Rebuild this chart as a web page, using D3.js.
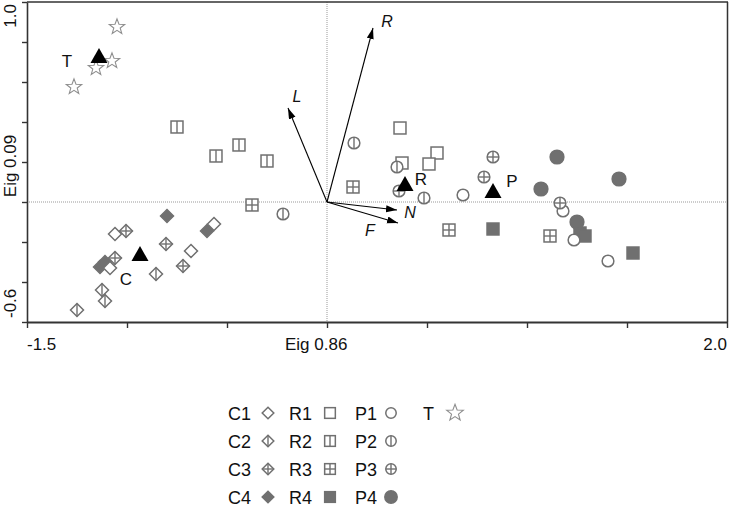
<!DOCTYPE html>
<html>
<head>
<meta charset="utf-8">
<script src="https://cdn.jsdelivr.net/npm/d3@7"></script>
<style>
  html, body { margin: 0; padding: 0; background: #fff; }
  svg { display: block; font-family: "Liberation Sans", Arial, Helvetica, sans-serif; }
</style>
</head>
<body>
<svg id="chart" width="729" height="506"></svg>
<script>
// ---------- DATA ----------
const xTicks = [-1.5, -1.0, -0.5, 0, 0.5, 1.0, 1.5, 2.0];
const yTicks = [-0.6, -0.4, -0.2, 0, 0.2, 0.4, 0.6, 0.8, 1.0];
const xTickLabels = ["-1.5", "2.0"];
const yTickLabels = ["-0.6", "1.0"];
const xTitle = "Eig 0.86";
const yTitle = "Eig 0.09";

const C1 = [[-1.06, -0.16], [-0.565, -0.11], [-0.68, -0.245], [-1.085, -0.33]];
const C2 = [[-0.855, -0.36], [-1.125, -0.44], [-1.11, -0.495], [-1.25, -0.54]];
const C3 = [[-1.005, -0.145], [-0.805, -0.21], [-0.72, -0.32], [-1.06, -0.28]];
const C4 = [[-0.80, -0.07], [-0.60, -0.145], [-1.135, -0.325], [-1.11, -0.30]];
const R1 = [[0.365, 0.37], [0.55, 0.245], [0.51, 0.19], [0.375, 0.195]];
const R2 = [[-0.75, 0.375], [-0.555, 0.23], [-0.44, 0.285], [-0.30, 0.205]];
const R3 = [[-0.375, -0.015], [0.13, 0.075], [0.61, -0.14], [1.115, -0.17]];
const R4 = [[0.83, -0.135], [1.265, -0.155], [1.29, -0.17], [1.53, -0.255]];
const P1 = [[0.68, 0.035], [1.18, -0.045], [1.235, -0.19], [1.405, -0.295]];
const P2 = [[0.135, 0.295], [0.35, 0.175], [0.485, 0.02], [-0.22, -0.06]];
const P3 = [[0.36, 0.055], [0.785, 0.125], [0.83, 0.225], [1.165, -0.005]];
const P4 = [[1.15, 0.225], [1.07, 0.065], [1.46, 0.115], [1.25, -0.10]];
const T  = [[-1.05, 0.875], [-1.075, 0.705], [-1.155, 0.67], [-1.265, 0.575]];

const centroidNames = ["T", "C", "R", "P"];
const centroids = [[-1.14, 0.725], [-0.935, -0.265], [0.39, 0.085], [0.83, 0.05]];

const vectorNames = ["R", "L", "N", "F"];
const vectorEnds = [[0.23, 0.87], [-0.195, 0.47], [0.35, -0.04], [0.355, -0.105]];
const vectorLabelPos = [[0.30, 0.905], [-0.15, 0.53], [0.415, -0.05], [0.215, -0.14]];

const legendRows = [["C1", "R1", "P1", "T"], ["C2", "R2", "P2"], ["C3", "R3", "P3"], ["C4", "R4", "P4"]];

// ---------- STYLE / LAYOUT ----------
const GRAY = "#707070";
const STAR = "#8e8e8e";
const svg = d3.select("#chart");
const pL = 27, pR = 727, pT = 2, pB = 322;
const x = d3.scaleLinear().domain([-1.5, 2.0]).range([pL, pR]);
const y = d3.scaleLinear().domain([-0.6, 1.0]).range([pB, pT]);

const groups = {
  C1: {pts: C1, shape: "diamond", mark: "none", fill: false},
  C2: {pts: C2, shape: "diamond", mark: "v", fill: false},
  C3: {pts: C3, shape: "diamond", mark: "cross", fill: false},
  C4: {pts: C4, shape: "diamond", mark: "none", fill: true},
  R1: {pts: R1, shape: "square", mark: "none", fill: false},
  R2: {pts: R2, shape: "square", mark: "v", fill: false},
  R3: {pts: R3, shape: "square", mark: "cross", fill: false},
  R4: {pts: R4, shape: "square", mark: "none", fill: true},
  P1: {pts: P1, shape: "circle", mark: "none", fill: false},
  P2: {pts: P2, shape: "circle", mark: "v", fill: false},
  P3: {pts: P3, shape: "circle", mark: "cross", fill: false},
  P4: {pts: P4, shape: "circle", mark: "none", fill: true},
  T:  {pts: T, shape: "star", mark: "none", fill: false}
};

function drawSymbol(g, spec, s) {
  const col = spec.shape === "star" ? STAR : GRAY;
  const sw = 1.5;
  if (spec.shape === "diamond") {
    g.append("path").attr("d", `M0,${-s}L${s},0L0,${s}L${-s},0Z`)
      .attr("fill", spec.fill ? GRAY : "#fff").attr("stroke", GRAY).attr("stroke-width", sw);
  } else if (spec.shape === "square") {
    const h = s * 0.92;
    g.append("rect").attr("x", -h).attr("y", -h).attr("width", 2 * h).attr("height", 2 * h)
      .attr("fill", spec.fill ? GRAY : "#fff").attr("stroke", GRAY).attr("stroke-width", sw);
  } else if (spec.shape === "circle") {
    g.append("circle").attr("r", spec.fill ? s * 0.98 + 0.5 : s * 0.9)
      .attr("fill", spec.fill ? GRAY : "#fff").attr("stroke", GRAY).attr("stroke-width", sw);
  } else if (spec.shape === "star") {
    const pts = [];
    for (let i = 0; i < 10; i++) {
      const a = -Math.PI / 2 + i * Math.PI / 5;
      const r = i % 2 === 0 ? s * 1.25 : s * 0.52;
      pts.push([r * Math.cos(a), r * Math.sin(a)]);
    }
    g.append("path").attr("d", "M" + pts.map(p => p.join(",")).join("L") + "Z")
      .attr("fill", "#fff").attr("stroke", col).attr("stroke-width", 1.1);
  }
  const ext = spec.shape === "square" ? s * 0.92 : (spec.shape === "circle" ? s * 0.9 : s);
  if (spec.mark === "v" || spec.mark === "cross") {
    g.append("line").attr("x1", 0).attr("x2", 0).attr("y1", -ext).attr("y2", ext)
      .attr("stroke", GRAY).attr("stroke-width", 1.4);
  }
  if (spec.mark === "cross") {
    g.append("line").attr("y1", 0).attr("y2", 0).attr("x1", -ext).attr("x2", ext)
      .attr("stroke", GRAY).attr("stroke-width", 1.4);
  }
}

// dotted zero lines
svg.append("line").attr("x1", x(0)).attr("x2", x(0)).attr("y1", pT).attr("y2", pB)
  .attr("stroke", "#999").attr("stroke-width", 1).attr("stroke-dasharray", "1,1");
svg.append("line").attr("x1", pL).attr("x2", pR).attr("y1", y(0)).attr("y2", y(0))
  .attr("stroke", "#999").attr("stroke-width", 1).attr("stroke-dasharray", "1,1");

// frame top & right
svg.append("line").attr("x1", pL).attr("x2", pR + 1).attr("y1", pT).attr("y2", pT)
  .attr("stroke", "#333").attr("stroke-width", 1.5);
svg.append("line").attr("x1", pR + 0.5).attr("x2", pR + 0.5).attr("y1", pT).attr("y2", pB)
  .attr("stroke", "#333").attr("stroke-width", 1.5);

// axes
const xAxis = svg.append("g").attr("transform", `translate(0,${pB})`)
  .call(d3.axisBottom(x).tickValues(xTicks).tickFormat("").tickSizeInner(6).tickSizeOuter(0));
const yAxis = svg.append("g").attr("transform", `translate(${pL},0)`)
  .call(d3.axisLeft(y).tickValues(yTicks).tickFormat("").tickSizeInner(5).tickSizeOuter(0));
xAxis.select(".domain").attr("stroke", "#333").attr("stroke-width", 2);
yAxis.select(".domain").attr("stroke", "#333").attr("stroke-width", 1.6);
xAxis.selectAll(".tick line").attr("stroke", "#333").attr("stroke-width", 1.4);
yAxis.selectAll(".tick line").attr("stroke", "#333").attr("stroke-width", 1.4);

// axis text
svg.append("text").attr("x", x(xTicks[0])).attr("y", 350).attr("font-size", 17).attr("fill", "#111").text(xTickLabels[0]);
svg.append("text").attr("x", x(xTicks[xTicks.length - 1])).attr("y", 350).attr("text-anchor", "end")
  .attr("font-size", 17).attr("fill", "#111").text(xTickLabels[1]);
svg.append("text").attr("x", 285).attr("y", 350).attr("font-size", 17).attr("fill", "#111").text(xTitle);

svg.append("text").attr("transform", `translate(15.5,${y(yTicks[0]) - 4}) rotate(-90)`)
  .attr("font-size", 17).attr("fill", "#111").text(yTickLabels[0]);
svg.append("text").attr("transform", `translate(15.5,${y(yTicks[yTicks.length - 1]) + 2}) rotate(-90)`)
  .attr("text-anchor", "end").attr("font-size", 17).attr("fill", "#111").text(yTickLabels[1]);
svg.append("text").attr("transform", `translate(15.5,166) rotate(-90)`)
  .attr("text-anchor", "middle").attr("font-size", 17).attr("fill", "#111").text(yTitle);

// vectors
const defs = svg.append("defs");
defs.append("marker").attr("id", "arr").attr("markerUnits", "userSpaceOnUse")
  .attr("markerWidth", 12).attr("markerHeight", 8).attr("refX", 11).attr("refY", 3.5)
  .attr("orient", "auto")
  .append("path").attr("d", "M0,0L11,3.5L0,7Z").attr("fill", "#000");
vectorEnds.forEach((e, i) => {
  svg.append("line").attr("x1", x(0)).attr("y1", y(0)).attr("x2", x(e[0])).attr("y2", y(e[1]))
    .attr("stroke", "#000").attr("stroke-width", 1.1).attr("marker-end", "url(#arr)");
  svg.append("text").attr("x", x(vectorLabelPos[i][0])).attr("y", y(vectorLabelPos[i][1]))
    .attr("text-anchor", "middle").attr("dominant-baseline", "central")
    .attr("font-size", 16).attr("font-style", "italic").attr("fill", "#111").text(vectorNames[i]);
});

// points
const order = ["R4", "P4", "C4", "R1", "R2", "R3", "P1", "P2", "P3", "C1", "C2", "C3", "T"];
order.forEach(k => {
  const spec = groups[k];
  spec.pts.forEach(p => {
    const g = svg.append("g").attr("transform", `translate(${x(p[0])},${y(p[1])})`);
    drawSymbol(g, spec, 6.5);
  });
});

// centroids
const labelOffsets = [[-32, 4], [-14, 24], [16, -6], [19, -11]];
centroids.forEach((c, i) => {
  svg.append("path").attr("transform", `translate(${x(c[0])},${y(c[1])})`)
    .attr("d", "M0,-9L8.5,6L-8.5,6Z").attr("fill", "#000");
  svg.append("text").attr("x", x(c[0]) + labelOffsets[i][0]).attr("y", y(c[1]) + labelOffsets[i][1])
    .attr("text-anchor", "middle").attr("dominant-baseline", "central")
    .attr("font-size", 17).attr("fill", "#111").text(centroidNames[i]);
});

// legend
const colText = [228, 289, 355, 423];
const colSym = [268, 330, 391, 455];
const rowY = [413, 441, 469, 497];
legendRows.forEach((row, ri) => {
  row.forEach((k, ci) => {
    svg.append("text").attr("x", colText[ci]).attr("y", rowY[ri] + 6.5)
      .attr("font-size", 18).attr("fill", "#111").text(k);
    const g = svg.append("g").attr("transform", `translate(${colSym[ci]},${rowY[ri]})`);
    drawSymbol(g, groups[k], k === "T" ? 7 : 5.8);
  });
});
</script>
</body>
</html>
